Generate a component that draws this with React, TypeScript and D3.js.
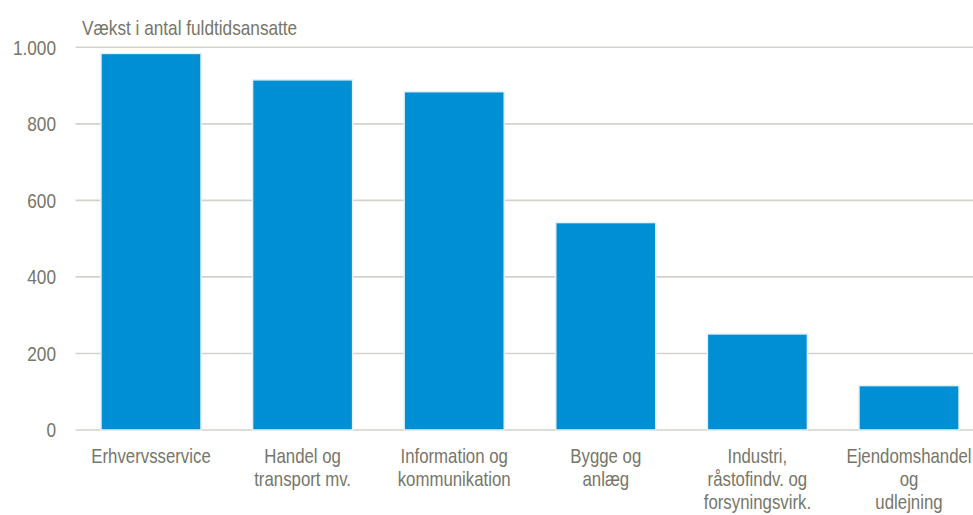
import React from "react";
import * as d3 from "d3";

const categories = [
  "Erhvervsservice",
  "Handel og\ntransport mv.",
  "Information og\nkommunikation",
  "Bygge og\nanlæg",
  "Industri,\nråstofindv. og\nforsyningsvirk.",
  "Ejendomshandel\nog\nudlejning",
];
const values = [984, 915, 884, 542, 251, 116];
const yTicks = [0, 200, 400, 600, 800, 1000];
const yTickLabels = ["0", "200", "400", "600", "800", "1.000"];
const title = "Vækst i antal fuldtidsansatte";

const W = 973;
const H = 515;
const TEXT = "#76766a";
const GRID = "#d3d3cb";
const BAR = "#008fd5";
const FONT = "'Liberation Sans', Arial, sans-serif";
const NARROW = 0.82;

function NText(props: {
  x: number;
  y: number;
  size: number;
  anchor?: "start" | "middle" | "end";
  children: React.ReactNode;
}) {
  return (
    <text
      transform={`translate(${props.x},${props.y}) scale(${NARROW},1)`}
      fontSize={props.size}
      textAnchor={props.anchor || "start"}
      fill={TEXT}
    >
      {props.children}
    </text>
  );
}

export default function App() {
  const x = d3
    .scaleBand<string>()
    .domain(categories)
    .range([75.2, 75.2 + 151.6 * 6])
    .paddingInner(0.34)
    .paddingOuter(0.17);
  const y = d3.scaleLinear().domain([0, 1000]).range([430, 47.3]);

  return (
    <svg
      width={W}
      height={H}
      style={{ position: "absolute", left: 0, top: 0, background: "#fff" }}
      fontFamily={FONT}
    >
      <NText x={82} y={34.5} size={21}>
        {title}
      </NText>
      {yTicks.map((t, i) => (
        <g key={t}>
          <line x1={75.5} x2={W} y1={y(t)} y2={y(t)} stroke={GRID} strokeWidth={1.6} />
          <NText x={56} y={y(t) + 7.3} size={21} anchor="end">
            {yTickLabels[i]}
          </NText>
        </g>
      ))}
      {categories.map((c, i) => (
        <rect
          key={c}
          x={x(c)!}
          y={y(values[i])}
          width={x.bandwidth()}
          height={y(0) - y(values[i])}
          fill={BAR}
          stroke="#e3f1f9"
          strokeWidth={1.5}
        />
      ))}
      {categories.map((c) => {
        const cx = x(c)! + x.bandwidth() / 2;
        return (
          <g key={c}>
            {c.split("\n").map((line, j) => (
              <NText key={j} x={cx} y={463.3 + j * 23} size={20.5} anchor="middle">
                {line}
              </NText>
            ))}
          </g>
        );
      })}
    </svg>
  );
}
